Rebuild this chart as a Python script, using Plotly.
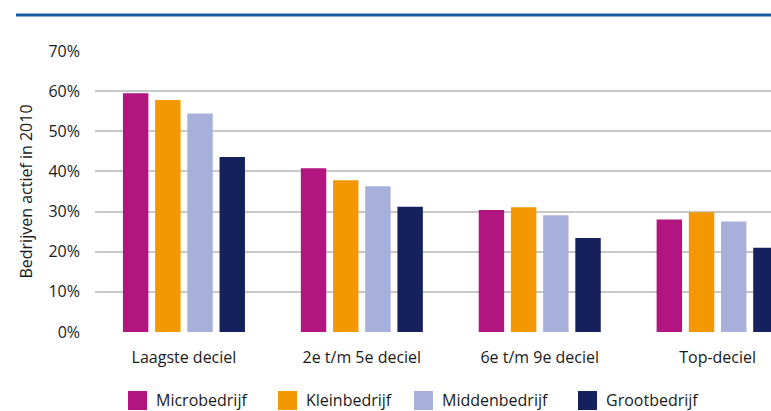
import plotly.graph_objects as go

# ---- data ----
categories = ["Laagste deciel", "2e t/m 5e deciel", "6e t/m 9e deciel", "Top-deciel"]
series_names = ["Microbedrijf", "Kleinbedrijf", "Middenbedrijf", "Grootbedrijf"]
micro = [0.595, 0.408, 0.304, 0.280]
klein = [0.578, 0.378, 0.311, 0.298]
midden = [0.544, 0.363, 0.291, 0.275]
groot = [0.436, 0.312, 0.234, 0.210]
series_values = [micro, klein, midden, groot]
colors = ["#B2157F", "#F39800", "#A7B0DA", "#14215C"]
y_tickvals = [0, 0.1, 0.2, 0.3, 0.4, 0.5, 0.6, 0.7]
y_ticktext = ["0%", "10%", "20%", "30%", "40%", "50%", "60%", "70%"]
y_title = "Bedrijven actief in 2010"

W, H = 771, 411
ML, MR, MT, MB = 95, 0, 51, 79
PW, PH = W - ML - MR, H - MT - MB

def px_x(px):
    return (px - ML) / PW

def px_y(py):
    return (H - MB - py) / PH

FONT = "Open Sans"
TXT = "#1a1a1a"

fig = go.Figure()
for name, vals, col in zip(series_names, series_values, colors):
    fig.add_trace(go.Bar(
        x=categories, y=vals, name=name,
        marker=dict(color=col, line=dict(width=0)),
        showlegend=False,
    ))

# manual legend (large square swatches)
legend_sq_x = [128, 278, 414, 578]
for name, col, sx in zip(series_names, colors, legend_sq_x):
    fig.add_shape(type="rect", xref="paper", yref="paper",
                  x0=px_x(sx), x1=px_x(sx + 19), y0=px_y(410), y1=px_y(391),
                  fillcolor=col, line=dict(width=0))
    fig.add_annotation(xref="paper", yref="paper", x=px_x(sx + 26), y=px_y(400),
                       xanchor="left", yanchor="middle", showarrow=False,
                       text=name, font=dict(family=FONT, size=16, color=TXT))

# top rule
fig.add_shape(type="line", xref="paper", yref="paper",
              x0=px_x(16), x1=px_x(775), y0=px_y(15), y1=px_y(15),
              line=dict(color="#155AA5", width=3))

fig.update_layout(
    width=W, height=H,
    margin=dict(l=ML, r=MR, t=MT, b=MB, pad=0),
    paper_bgcolor="white", plot_bgcolor="white",
    barmode="group", bargap=0.276, bargroupgap=0.21,
    font=dict(family=FONT, size=16, color=TXT),
    showlegend=False,
)
fig.update_xaxes(
    range=[-0.5, 3.30], showgrid=False, zeroline=False, showline=False,
    ticks="", tickfont=dict(family=FONT, size=16, color=TXT),
    ticklabelstandoff=14,
)
fig.update_yaxes(
    range=[0, 0.7], tickvals=y_tickvals, ticktext=y_ticktext,
    showgrid=True, gridcolor="#C8C8C8", gridwidth=2, zeroline=False,
    showline=False, ticks="", ticklabelstandoff=14,
    tickfont=dict(family=FONT, size=16, color=TXT),
    title=dict(text=y_title, font=dict(family=FONT, size=16, color=TXT), standoff=11),
)

fig.write_html("out.html", config={"displayModeBar": False},
               post_script="document.body.style.margin='0';")
